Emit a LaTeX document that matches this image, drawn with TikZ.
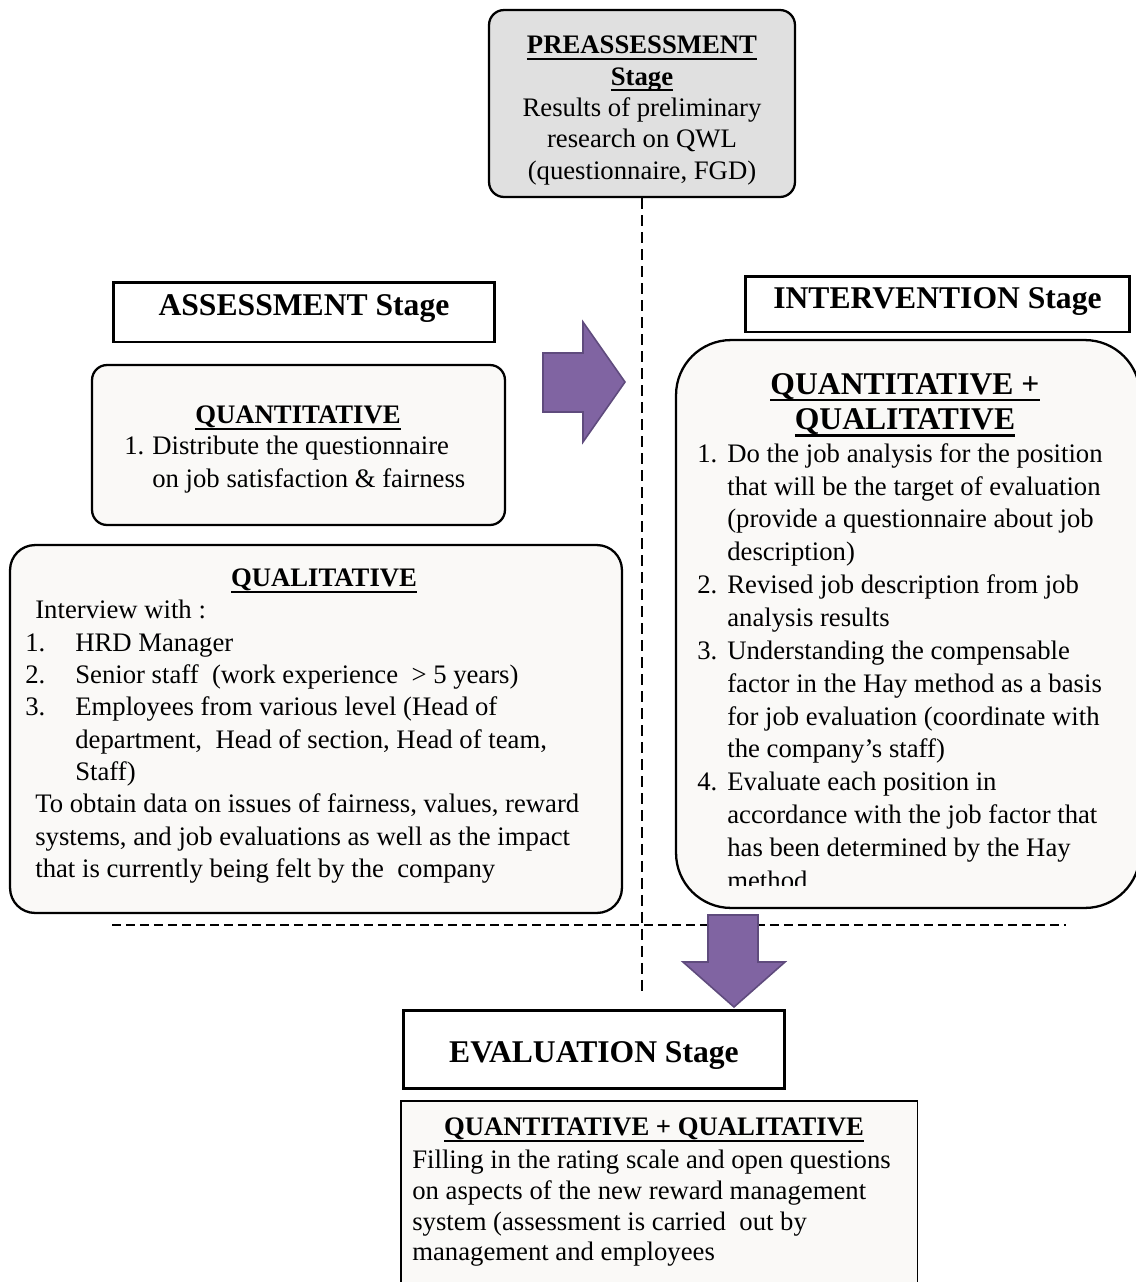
\documentclass[tikz,border=0pt]{standalone}
\usepackage{fontspec}
\setmainfont{Liberation Serif}
\usetikzlibrary{positioning}

\definecolor{stagepurple}{HTML}{8064A2}
\definecolor{purpleedge}{HTML}{5F4B7D}
\definecolor{paper}{HTML}{FAF9F7}
\definecolor{pregray}{HTML}{E0E0E0}

\newsavebox{\ulsave}
\newcommand{\bodyfont}{\fontsize{15.2}{18.4}\selectfont}
\newcommand{\stagefont}{\fontsize{18}{20}\selectfont\bfseries}
\newcommand{\ulbox}[1]{\sbox{\ulsave}{#1}\rlap{\rule[-0.22em]{\wd\ulsave}{0.07em}}\usebox{\ulsave}}
\newcommand{\uhead}[1]{\ulbox{\textbf{#1}}}
\newcommand{\itemno}[2][1cm]{\makebox[#1][l]{#2}}

\tikzset{
  stagebox/.style={draw, line width=1.7pt, fill=white, inner sep=0pt, font=\stagefont},
  softbox/.style={draw, line width=1.3pt, fill=paper, inner sep=0pt},
  headtext/.style={font=\bodyfont, inner sep=0pt},
  bodytext/.style={font=\bodyfont, align=left, inner sep=0pt, anchor=north west},
  blockarrow/.style={fill=stagepurple, draw=purpleedge, line width=0.9pt, line join=miter},
  midline/.style={line width=1.2pt, dash pattern=on 0.22cm off 0.12cm},
  splitline/.style={line width=0.8pt, dash pattern=on 0.18cm off 0.1cm},
}

\begin{document}
\begin{tikzpicture}[x=0.02cm,y=-0.02cm]
  \useasboundingbox (0,0) rectangle (1136,1282);

  % preassessment
  \node[softbox, fill=pregray, rounded corners=0.3cm, minimum width=6.12cm, minimum height=3.74cm] (pre) at (642,103.5) {};
  \node[headtext, font=\fontsize{15.2}{17.8}\selectfont, align=center] (pretext) at (642,110.5)
    {\uhead{PREASSESSMENT}\\ \uhead{Stage}\\ Results of preliminary\\ research on QWL\\ (questionnaire, FGD)};

  % dashed guides
  \coordinate (vend) at (640,995);
  \draw[midline] (pre.south) -- (pre.south |- vend);
  \coordinate (hleft) at (112,925);
  \coordinate (hright) at (1066,925);
  \draw[splitline] (hleft) -- (hright);

  % assessment
  \node[stagebox, minimum width=7.64cm, minimum height=1.2cm, text height=0.44cm, text depth=0.3cm] (asmt) at (304,312) {ASSESSMENT Stage};

  \node[softbox, rounded corners=0.3cm, minimum width=8.26cm, minimum height=3.2cm] (quant) at (298.5,445) {};
  \node[headtext] (quanthead) at (298,418) {\uhead{QUANTITATIVE}};
  \node[bodytext] (quantbody) at (124,436)
    {\itemno[0.56cm]{1.}Distribute the questionnaire\\
     \hspace*{0.56cm}on job satisfaction \& fairness};

  \node[softbox, rounded corners=0.5cm, minimum width=12.24cm, minimum height=7.36cm] (qual) at (316,729) {};
  \node[headtext] (qualhead) at (324,581) {\uhead{QUALITATIVE}};
  \node[bodytext] (qualbody) at (25,600)
    {\hspace*{0.2cm}Interview with :\\
     \itemno{1.}HRD Manager\\
     \itemno{2.}Senior staff\ \ (work experience\ \ > 5 years)\\
     \itemno{3.}Employees from various level (Head of\\
     \hspace*{1cm}department,\ \ Head of section, Head of team,\\
     \hspace*{1cm}Staff)\\
     \hspace*{0.2cm}To obtain data on issues of fairness, values, reward\\
     \hspace*{0.2cm}systems, and job evaluations as well as the impact\\
     \hspace*{0.2cm}that is currently being felt by the\ \ company};

  % arrow to intervention
  \filldraw[blockarrow] (543,353) -- (583,353) -- (583,322) -- (625,382)
    -- (583,442) -- (583,412) -- (543,412) -- cycle;

  % intervention
  \node[stagebox, minimum width=7.7cm, minimum height=1.12cm, text height=0.44cm, text depth=0.26cm] (intv) at (937.5,304) {INTERVENTION Stage};
  \node[softbox, rounded corners=1.1cm, minimum width=9.28cm, minimum height=11.36cm] (intvbox) at (908,624) {};
  \begin{scope}
    \clip (680,345) rectangle (1136,885);
    \node[headtext, font=\stagefont, align=center] (intvhead) at (905,405)
      {\ulbox{QUANTITATIVE +}\\ \ulbox{QUALITATIVE}};
    \node[bodytext, font=\fontsize{15.2}{18.7}\selectfont] (intvbody) at (697,443)
      {\itemno[0.6cm]{1.}Do the job analysis for the position\\
       \hspace*{0.6cm}that will be the target of evaluation\\
       \hspace*{0.6cm}(provide a questionnaire about job\\
       \hspace*{0.6cm}description)\\
       \itemno[0.6cm]{2.}Revised job description from job\\
       \hspace*{0.6cm}analysis results\\
       \itemno[0.6cm]{3.}Understanding the compensable\\
       \hspace*{0.6cm}factor in the Hay method as a basis\\
       \hspace*{0.6cm}for job evaluation (coordinate with\\
       \hspace*{0.6cm}the company's staff)\\
       \itemno[0.6cm]{4.}Evaluate each position in\\
       \hspace*{0.6cm}accordance with the job factor that\\
       \hspace*{0.6cm}has been determined by the Hay\\
       \hspace*{0.6cm}method};
  \end{scope}

  % arrow to evaluation
  \filldraw[blockarrow] (708,915) -- (758,915) -- (758,962) -- (785,962)
    -- (734,1007) -- (683,962) -- (708,962) -- cycle;

  % evaluation
  \node[stagebox, minimum width=7.64cm, minimum height=1.56cm, text height=0.54cm, text depth=0pt] (eval) at (594,1049) {EVALUATION Stage};
  \node[softbox, line width=0.9pt, minimum width=10.34cm, minimum height=4.2cm, anchor=north west] (evalbox) at (400,1100) {};
  \node[headtext] (evalhead) at (654,1130) {\uhead{QUANTITATIVE + QUALITATIVE}};
  \node[bodytext, font=\fontsize{15.2}{17.4}\selectfont] (evalbody) at (412,1150)
    {Filling in the rating scale and open questions\\
     on aspects of the new reward management\\
     system (assessment is carried\ \ out by\\
     management and employees};
\end{tikzpicture}
\end{document}
